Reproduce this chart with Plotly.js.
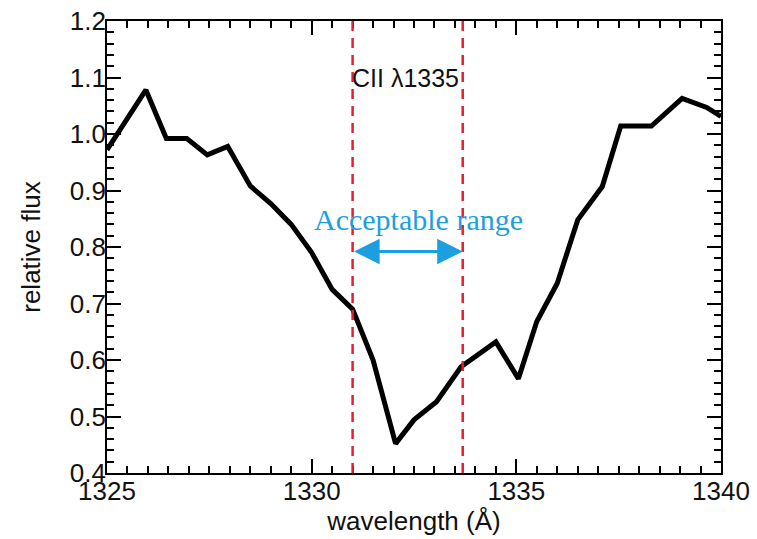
<!DOCTYPE html>
<html>
<head>
<meta charset="utf-8">
<script src="https://cdn.plot.ly/plotly-3.0.1.min.js"></script>
<style>html,body{margin:0;padding:0;background:#fff;}#chart{width:757px;height:539px;}</style>
</head>
<body>
<div id="chart"></div>
<script>
// Data
var wavelength = [1325, 1325.95, 1326.45, 1326.95, 1327.45, 1327.95, 1328.5, 1329.0, 1329.5, 1330.0, 1330.5, 1331.0, 1331.5, 1332.05, 1332.5, 1333.05, 1333.65, 1334.5, 1335.05, 1335.5, 1336.0, 1336.5, 1337.1, 1337.55, 1338.3, 1339.05, 1339.65, 1340.0];
var relativeFlux = [0.972, 1.078, 0.992, 0.992, 0.963, 0.978, 0.908, 0.877, 0.84, 0.79, 0.725, 0.69, 0.60, 0.452, 0.494, 0.526, 0.588, 0.632, 0.567, 0.668, 0.736, 0.848, 0.907, 1.014, 1.014, 1.063, 1.047, 1.031];
var rangeLimits = [1331.0, 1333.69];
var xRange = [1325, 1340];
var yRange = [0.4, 1.2];
var lineLabel = "CII \u03bb1335";
var rangeLabel = "Acceptable range";
var xTitle = "wavelength (\u00c5)";
var yTitle = "relative flux";

var blue = "#1c9fe0";
var red = "#e3202b";
var sans = "Liberation Sans, Arial, sans-serif";

var shapes = rangeLimits.map(function (v) {
  return {type: "line", xref: "x", yref: "paper", x0: v, x1: v, y0: 0, y1: 1,
          line: {color: red, width: 2.5, dash: "10px,7px"}, layer: "above"};
});

var trace = {
  x: wavelength, y: relativeFlux, type: "scatter", mode: "lines",
  line: {color: "#000", width: 5}, xaxis: "x", yaxis: "y"
};
// empty trace that carries the label axes
var labelAxesTrace = {x: [], y: [], type: "scatter", mode: "lines", xaxis: "x2", yaxis: "y2", showlegend: false};

var layout = {
  width: 757, height: 539,
  margin: {l: 107, r: 36, t: 21, b: 66},
  showlegend: false,
  // tick-mark axes (frame + major/minor ticks, no labels)
  xaxis: {
    range: xRange, dtick: 5, showline: true, linecolor: "#000", linewidth: 2, mirror: "ticks",
    ticks: "inside", ticklen: 14, tickwidth: 1.5, tickcolor: "#000", showgrid: false,
    showticklabels: false,
    minor: {dtick: 0.5, ticks: "inside", ticklen: 7, tickcolor: "#000"}
  },
  yaxis: {
    range: yRange, dtick: 0.1, showline: true, linecolor: "#000", linewidth: 2, mirror: "ticks",
    ticks: "inside", ticklen: 14, tickwidth: 1.5, tickcolor: "#000", showgrid: false,
    showticklabels: false,
    minor: {dtick: 0.02, ticks: "inside", ticklen: 7, tickcolor: "#000"}
  },
  // label axes (tick labels + titles)
  xaxis2: {
    overlaying: "x", anchor: "y", side: "bottom", range: xRange, tick0: 1325, dtick: 5,
    ticks: "", showline: false, showgrid: false, zeroline: false,
    tickfont: {family: sans, size: 26, color: "#111"},
    title: {text: xTitle, font: {family: sans, size: 26, color: "#111"}, standoff: 0}
  },
  yaxis2: {
    overlaying: "y", anchor: "x", side: "left", range: yRange, tick0: 0.4, dtick: 0.1, tickformat: ".1f",
    ticks: "", showline: false, showgrid: false, zeroline: false,
    tickfont: {family: sans, size: 26, color: "#111"},
    title: {text: yTitle, font: {family: sans, size: 26, color: "#111"}, standoff: 21}
  },
  shapes: shapes,
  annotations: [
    {x: (rangeLimits[0] + rangeLimits[1]) / 2 - 0.06, y: 1.099, xref: "x", yref: "y",
     text: lineLabel, showarrow: false, font: {family: sans, size: 25, color: "#111"}},
    {x: 1332.6, y: 0.848, xref: "x", yref: "y",
     text: rangeLabel, showarrow: false, font: {family: "Liberation Serif, Times New Roman, serif", size: 30, color: blue}},
    {x: rangeLimits[1], y: 0.792, ax: rangeLimits[0], ay: 0.792, xref: "x", yref: "y", axref: "x", ayref: "y",
     text: "", showarrow: true, arrowhead: 2, arrowside: "end+start", arrowsize: 1.7, arrowwidth: 3, arrowcolor: blue,
     standoff: 0, startstandoff: 0}
  ]
};

Plotly.newPlot("chart", [trace, labelAxesTrace], layout, {displayModeBar: false});
</script>
</body>
</html>
